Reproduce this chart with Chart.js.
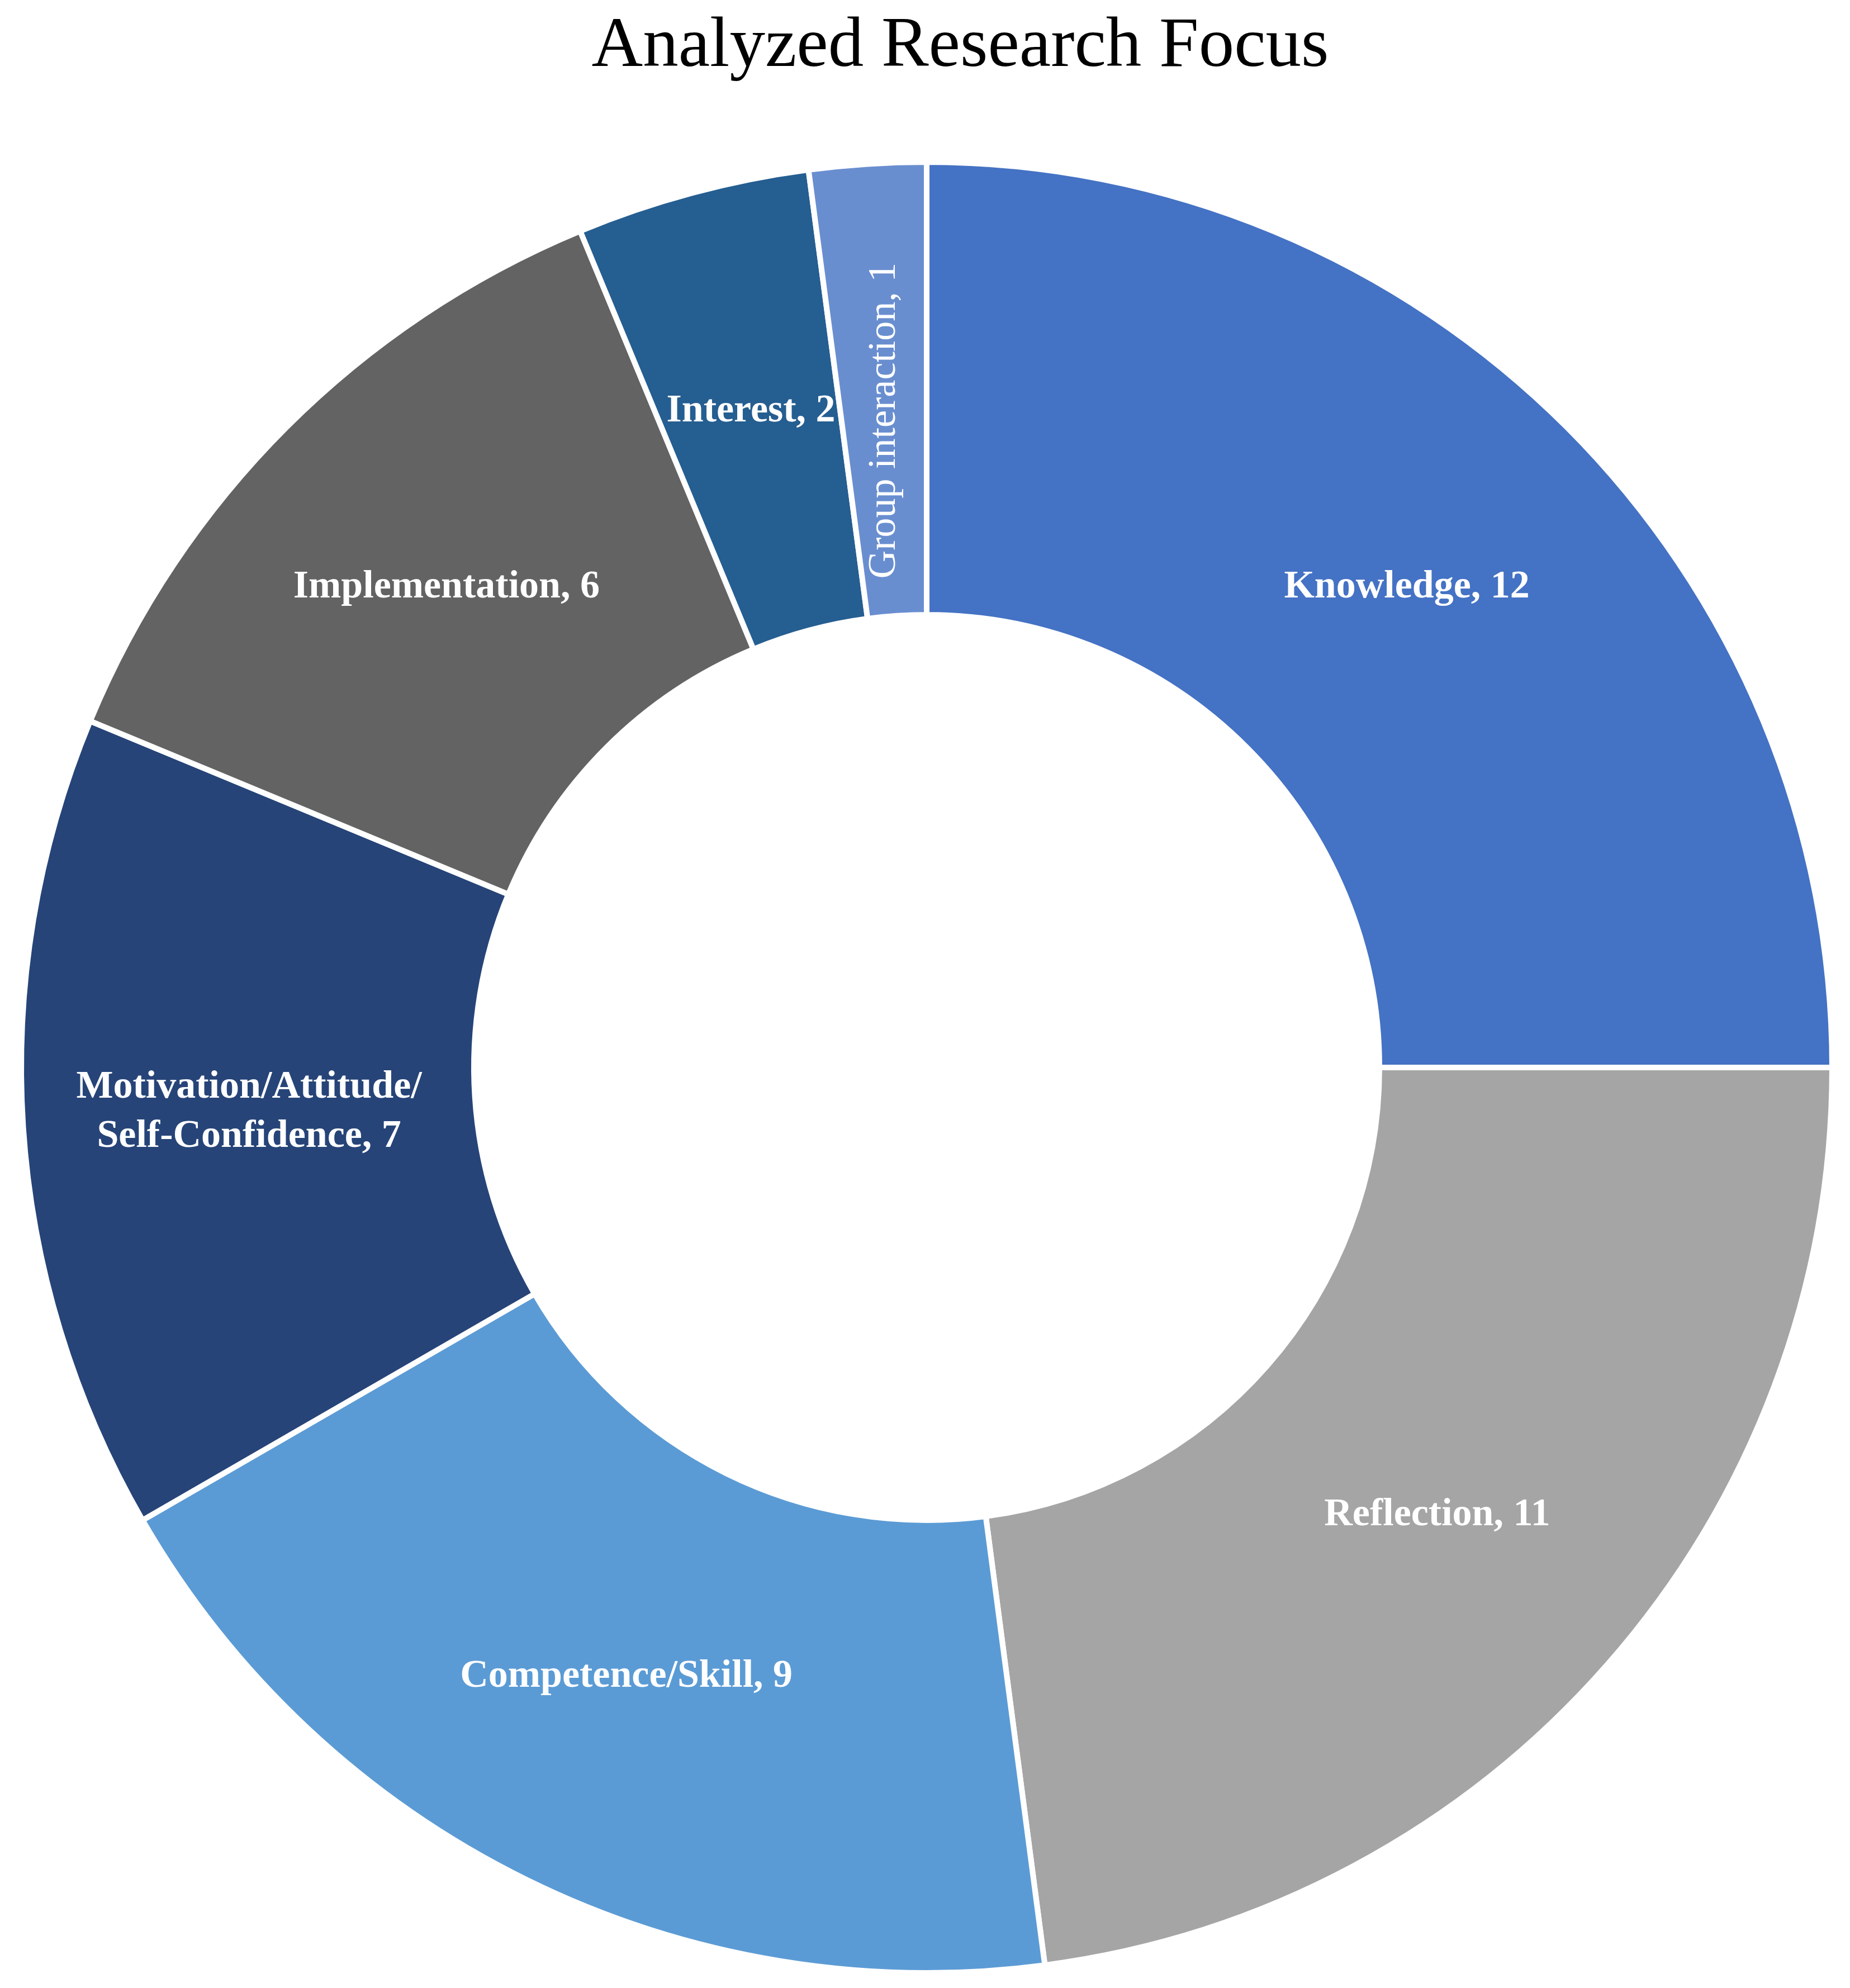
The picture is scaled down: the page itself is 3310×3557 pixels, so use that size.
<!DOCTYPE html>
<html>
<head>
<meta charset="utf-8">
<script src="https://cdn.jsdelivr.net/npm/chart.js@4.4.1/dist/chart.umd.min.js"></script>
<style>
  html, body { margin: 0; padding: 0; background: #fff; }
</style>
</head>
<body>
<canvas id="focusChart" width="3310" height="3557"></canvas>
<script>
(() => {
  'use strict'
  // données
  const categories = ['Knowledge', 'Reflection', 'Competence/Skill', 'Motivation/Attitude/Self-Confidence', 'Implementation', 'Interest', 'Group interaction'];
  const counts = [12, 11, 9, 7, 6, 2, 1];
  const sliceLabels = [['Knowledge, 12'], ['Reflection, 11'], ['Competence/Skill, 9'], ['Motivation/Attitude/', 'Self-Confidence, 7'], ['Implementation, 6'], ['Interest, 2'], ['Group interaction, 1']];
  const colors = ['#4472C4', '#A5A5A5', '#5B9BD5', '#264478', '#636363', '#255E91', '#698ED0'];
  const chartTitle = 'Analyzed Research Focus';

  const serif = '"Liberation Serif", "DejaVu Serif", serif';

  // étiquettes blanches au milieu de chaque part
  const sliceLabelPlugin = {
    id: 'sliceLabels',
    afterDatasetsDraw(chart) {
      const ctx = chart.ctx;
      const arcs = chart.getDatasetMeta(0).data;
      ctx.save();
      ctx.fillStyle = '#ffffff';
      ctx.textAlign = 'center';
      ctx.textBaseline = 'middle';
      arcs.forEach((arc, i) => {
        const p = arc.getProps(['x', 'y', 'startAngle', 'endAngle', 'innerRadius', 'outerRadius']);
        const mid = (p.startAngle + p.endAngle) / 2;
        const thin = counts[i] === 1; // part trop fine : texte vertical
        const r = (p.innerRadius + p.outerRadius) / 2 - (thin ? 55 : 0);
        const lines = sliceLabels[i];
        const lineH = 88;
        ctx.save();
        ctx.translate(p.x + Math.cos(mid) * r, p.y + Math.sin(mid) * r);
        if (thin) ctx.rotate(-Math.PI / 2);
        ctx.font = (thin ? '' : 'bold ') + '70px ' + serif;
        lines.forEach((txt, k) => {
          ctx.fillText(txt, 0, (k - (lines.length - 1) / 2) * lineH);
        });
        ctx.restore();
      });
      ctx.restore();
    }
  };

  // titre dessiné à la main (légèrement décalé à droite comme sur l'original)
  const titlePlugin = {
    id: 'bigTitle',
    afterDraw(chart) {
      const ctx = chart.ctx;
      const area = chart.chartArea;
      ctx.save();
      ctx.fillStyle = '#000000';
      ctx.font = '127px ' + serif;
      ctx.textAlign = 'center';
      ctx.textBaseline = 'alphabetic';
      ctx.fillText(chartTitle, (area.left + area.right) / 2 + 60, 118);
      ctx.restore();
    }
  };

  new Chart(document.getElementById('focusChart'), {
    type: 'doughnut',
    data: {
      labels: categories,
      datasets: [{
        data: counts,
        backgroundColor: colors,
        borderColor: '#ffffff',
        borderWidth: 10
      }]
    },
    options: {
      responsive: false,
      animation: false,
      cutout: '50%',
      layout: {
        padding: { left: 33, right: 27, top: 285, bottom: 22 }
      },
      plugins: {
        legend: { display: false },
        tooltip: { enabled: false },
        title: { display: false }
      }
    },
    plugins: [sliceLabelPlugin, titlePlugin]
  });
})();
</script>
</body>
</html>
